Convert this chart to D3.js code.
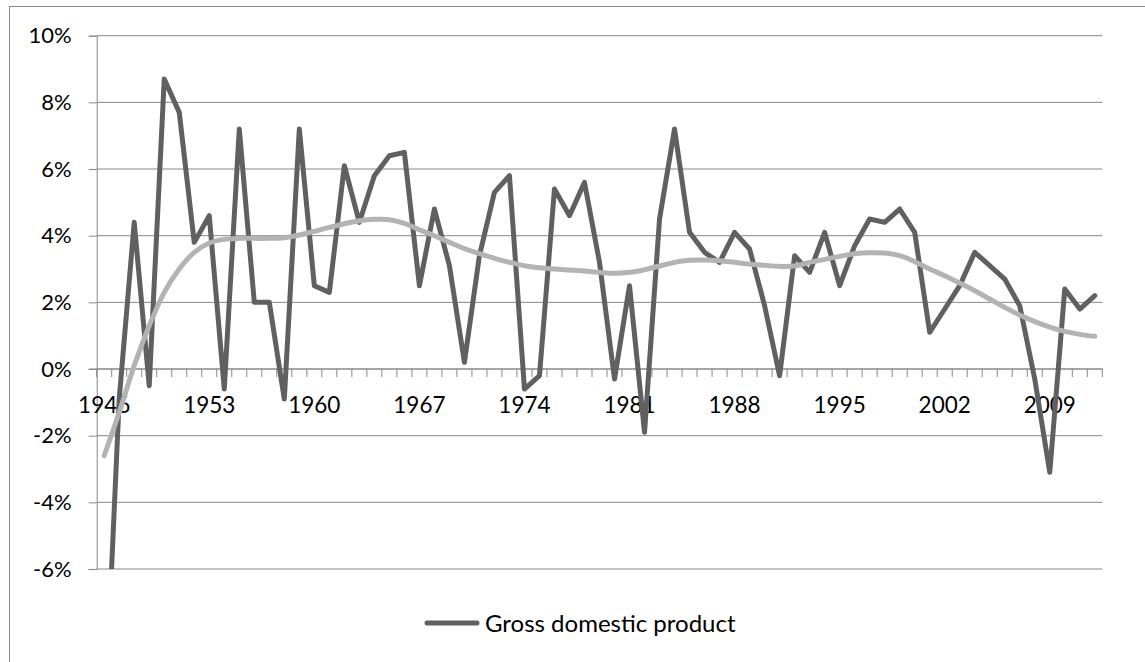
<!DOCTYPE html>
<html>
<head>
<meta charset="utf-8">
<title>Gross domestic product</title>
<script src="https://cdn.jsdelivr.net/npm/d3@7"></script>
<style>
  html, body { margin: 0; padding: 0; background: #fff; }
  svg { display: block; }
  text { font-family: Lato, "Open Sans", sans-serif; fill: #000; }
</style>
</head>
<body>
<svg id="chart" width="1145" height="662"></svg>
<script>
// Annual real GDP growth, percent
const years = d3.range(1946, 2013);
const gdpGrowth = [
  -10.9, -0.9, 4.4, -0.5, 8.7, 7.7, 3.8, 4.6, -0.6, 7.2,
  2.0, 2.0, -0.9, 7.2, 2.5, 2.3, 6.1, 4.4, 5.8, 6.4,
  6.5, 2.5, 4.8, 3.1, 0.2, 3.4, 5.3, 5.8, -0.6, -0.2,
  5.4, 4.6, 5.6, 3.2, -0.3, 2.5, -1.9, 4.5, 7.2, 4.1,
  3.5, 3.2, 4.1, 3.6, 1.9, -0.2, 3.4, 2.9, 4.1, 2.5,
  3.7, 4.5, 4.4, 4.8, 4.1, 1.1, 1.8, 2.5, 3.5, 3.1,
  2.7, 1.9, -0.3, -3.1, 2.4, 1.8, 2.2
];
// Smoothed trend of the growth series, percent
const gdpTrend = [
  -2.6, -1.3, 0.1, 1.3, 2.3, 3.0, 3.5, 3.78, 3.89, 3.92,
  3.92, 3.92, 3.94, 4.02, 4.13, 4.25, 4.36, 4.45, 4.49, 4.48,
  4.37, 4.18, 4.0, 3.8, 3.61, 3.46, 3.32, 3.2, 3.1, 3.04,
  3.0, 2.97, 2.94, 2.9, 2.87, 2.9, 2.98, 3.09, 3.2, 3.26,
  3.27, 3.25, 3.2, 3.15, 3.11, 3.08, 3.09, 3.2, 3.29, 3.38,
  3.46, 3.49, 3.48, 3.4, 3.22, 3.0, 2.8, 2.58, 2.35, 2.1,
  1.85, 1.62, 1.42, 1.26, 1.13, 1.04, 0.98
];
const yTicks = [-6, -4, -2, 0, 2, 4, 6, 8, 10];
const xTickLabels = [1946, 1953, 1960, 1967, 1974, 1981, 1988, 1995, 2002, 2009];
const seriesName = "Gross domestic product";

const svg = d3.select("#chart");
const plot = { left: 96.7, right: 1102.3, top: 35.7, bottom: 569 };
const gridColor = "#878787";
const lineColor = "#606060";
const trendColor = "#b3b3b3";

// outer chart frame
svg.append("rect")
  .attr("x", 9.5).attr("y", 6.5)
  .attr("width", 1200).attr("height", 700)
  .attr("fill", "none").attr("stroke", "#8a8a8a").attr("stroke-width", 1);

const x = d3.scaleBand().domain(years).range([plot.left, plot.right]).padding(0);
const y = d3.scaleLinear().domain([-6, 10]).range([plot.bottom, plot.top]);
const cx = d => x(d) + x.bandwidth() / 2;

// horizontal gridlines
svg.append("g").selectAll("line").data(yTicks).join("line")
  .attr("x1", plot.left).attr("x2", plot.right)
  .attr("y1", d => y(d)).attr("y2", d => y(d))
  .attr("stroke", gridColor).attr("stroke-width", 1);

// value axis
const yAxis = svg.append("g")
  .attr("transform", `translate(${plot.left},0)`)
  .call(d3.axisLeft(y).tickValues(yTicks).tickSize(8).tickPadding(17)
    .tickFormat(d => d + "%"));
yAxis.select(".domain").attr("stroke", gridColor);
yAxis.selectAll(".tick line").attr("stroke", gridColor);
yAxis.selectAll(".tick text")
  .attr("font-family", "Lato, 'Open Sans', sans-serif")
  .attr("font-size", 22).attr("fill", "#000");

// category axis along the zero line, ticks on band boundaries
const zeroY = y(0);
const boundaries = years.map(d => x(d)).concat([x.range()[1]]);
const xAxis = svg.append("g");
xAxis.append("line")
  .attr("x1", plot.left - 8).attr("x2", plot.right)
  .attr("y1", zeroY).attr("y2", zeroY)
  .attr("stroke", gridColor).attr("stroke-width", 1);
xAxis.selectAll("line.tick").data(boundaries).join("line")
  .attr("class", "tick")
  .attr("x1", d => d).attr("x2", d => d)
  .attr("y1", zeroY).attr("y2", zeroY + 8)
  .attr("stroke", gridColor).attr("stroke-width", 1);
xAxis.selectAll("text").data(xTickLabels).join("text")
  .attr("x", d => cx(d)).attr("y", zeroY + 43.5)
  .attr("text-anchor", "middle")
  .attr("font-size", 22.5)
  .text(d => d);

// clip marks to the plot area
svg.append("clipPath").attr("id", "plot-clip")
  .append("rect")
  .attr("x", plot.left).attr("y", plot.top)
  .attr("width", plot.right - plot.left).attr("height", plot.bottom - plot.top);

const gdpLine = d3.line().x((d, i) => cx(years[i])).y(d => y(d));
svg.append("path")
  .datum(gdpGrowth)
  .attr("clip-path", "url(#plot-clip)")
  .attr("d", gdpLine)
  .attr("fill", "none").attr("stroke", lineColor)
  .attr("stroke-width", 5).attr("stroke-linejoin", "round").attr("stroke-linecap", "round");

const trendLine = d3.line().x((d, i) => cx(years[i])).y(d => y(d)).curve(d3.curveCatmullRom);
svg.append("path")
  .datum(gdpTrend)
  .attr("clip-path", "url(#plot-clip)")
  .attr("d", trendLine)
  .attr("fill", "none").attr("stroke", trendColor)
  .attr("stroke-width", 5).attr("stroke-linecap", "round");

// legend
const legend = svg.append("g").attr("transform", "translate(425,623)");
legend.append("line")
  .attr("x1", 2).attr("x2", 52).attr("y1", 0).attr("y2", 0)
  .attr("stroke", lineColor).attr("stroke-width", 5).attr("stroke-linecap", "round");
legend.append("text")
  .attr("x", 60).attr("y", 0).attr("dy", "0.36em")
  .attr("font-size", 24)
  .text(seriesName);
</script>
</body>
</html>
